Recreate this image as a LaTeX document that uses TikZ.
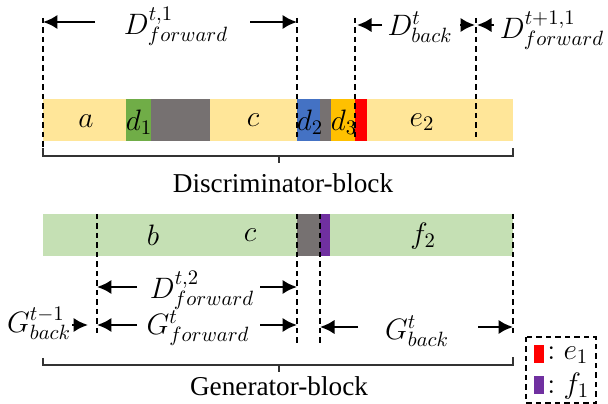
\RequirePackage{fix-cm}
\documentclass[tikz,border=0pt]{standalone}
\usepackage{fontspec}
\setmainfont{Liberation Serif}
\usetikzlibrary{arrows.meta}
\tikzset{>={Latex[length=2.9mm,width=2.9mm]}}
\definecolor{barYellow}{HTML}{FFE699}
\definecolor{barGreen}{HTML}{C5E0B4}
\definecolor{dGreen}{HTML}{70AD47}
\definecolor{dBlue}{HTML}{4472C4}
\definecolor{dOrange}{HTML}{FFC000}
\definecolor{blkGray}{HTML}{767171}
\definecolor{eRed}{HTML}{FF0000}
\definecolor{fPurple}{HTML}{7030A0}

\begin{document}
\begin{tikzpicture}[x=0.02cm,y=-0.02cm,font=\fontsize{15.5}{18}\selectfont,
    lbl/.style={font=\fontsize{16.8}{20}\selectfont},
    guide/.style={line width=0.9pt,dash pattern=on 1.1mm off 0.8mm},
    dim/.style={->,line width=1.5pt},
    brace/.style={line width=0.8pt,black!80}]
  \useasboundingbox (0,0) rectangle (608,404);
  % Discriminator bar
  \fill[barYellow] (43,99) rectangle (513,141);
  \fill[dGreen]  (126,99) rectangle (151,141);
  \fill[blkGray] (151,99) rectangle (210,141);
  \fill[dBlue]   (297,99) rectangle (320,141);
  \fill[blkGray] (320,99) rectangle (331,141);
  \fill[dOrange] (331,99) rectangle (355,141);
  \fill[eRed]    (355,99) rectangle (367,141);
  \node[lbl] (la)  at (86,121)  {$a$};
  \node[lbl] (ld1) at (139,122) {$d_1$};
  \node[lbl] (lc)  at (253,120) {$c$};
  \node[lbl] (ld2) at (310,122) {$d_2$};
  \node[lbl] (ld3) at (344,122) {$d_3$};
  \node[lbl] (le2) at (422,122) {$e_2$};
  % Generator bar
  \fill[barGreen] (43,214) rectangle (513,256);
  \fill[blkGray] (297,214) rectangle (320,256);
  \fill[fPurple] (320,214) rectangle (330,256);
  \node[lbl] (lb)  at (153,235) {$b$};
  \node[lbl] (lc2) at (250,235) {$c$};
  \node[lbl] (lf2) at (423,236) {$f_2$};
  % guide lines
  \draw[guide] (43,18) -- (43,150);
  \draw[guide] (297,18) -- (297,141);
  \draw[guide] (355,18) -- (355,141);
  \draw[guide] (476,18) -- (476,141);
  \draw[guide] (97,214) -- (97,337);
  \draw[guide] (297,214) -- (297,345);
  \draw[guide] (320,214) -- (320,345);
  \draw[guide] (513,214) -- (513,337);
  % braces
  \draw[brace] (43,148) -- (43,156) -- (513,156) -- (513,148);
  \draw[brace] (279,156) -- (279,163);
  \node (disc) at (283,183) {Discriminator-block};
  \draw[brace] (43,358) -- (43,365) -- (513,365) -- (513,357);
  \draw[brace] (279,365) -- (279,372);
  \node (gen) at (279,386) {Generator-block};
  % labels of the intervals
  \node[lbl] (Dfw1) at (176,26) {$D^{t,1}_{forward}$};
  \node[lbl] (Dbk)  at (420,27) {$D^{t}_{back}$};
  \node[lbl] (Dfw2) at (552,30) {$D^{t+1,1}_{forward}$};
  \node[lbl] (Dfw3) at (202,290) {$D^{t,2}_{forward}$};
  \node[lbl] (Gfw)  at (198,328) {$G^{t}_{forward}$};
  \node[lbl] (Gbk0) at (39,323) {$G^{t-1}_{back}$};
  \node[lbl] (Gbk)  at (417,331) {$G^{t}_{back}$};
  % arrow ends
  \coordinate (a1) at (95,22);  \coordinate (b1) at (43,22);
  \coordinate (a2) at (250,22); \coordinate (b2) at (297,22);
  \coordinate (a3) at (382,25); \coordinate (b3) at (357,25);
  \coordinate (a4) at (460,25); \coordinate (b4) at (475,25);
  \coordinate (a5) at (494,25); \coordinate (b5) at (477,25);
  \coordinate (a6) at (137,287); \coordinate (b6) at (97,287);
  \coordinate (a7) at (260,287); \coordinate (b7) at (297,287);
  \coordinate (a8) at (137,325); \coordinate (b8) at (97,325);
  \coordinate (a9) at (260,325); \coordinate (b9) at (297,325);
  \coordinate (a10) at (72,325); \coordinate (b10) at (88,325);
  \coordinate (a11) at (358,327); \coordinate (b11) at (320,327);
  \coordinate (a12) at (478,327); \coordinate (b12) at (513,327);
  \foreach \i in {1,...,12}
    \draw[dim] (a\i) -- (b\i);
  % legend
  \draw[guide] (526,337) rectangle (596,403);
  \fill[eRed]    (534,345) rectangle (544,363);
  \fill[fPurple] (534,376) rectangle (544,394);
  \node[lbl,anchor=west,inner sep=0pt] (leg1) at (547,355) {$:e_1$};
  \node[lbl,anchor=west,inner sep=0pt] (leg2) at (547,386) {$:f_1$};
\end{tikzpicture}
\end{document}
